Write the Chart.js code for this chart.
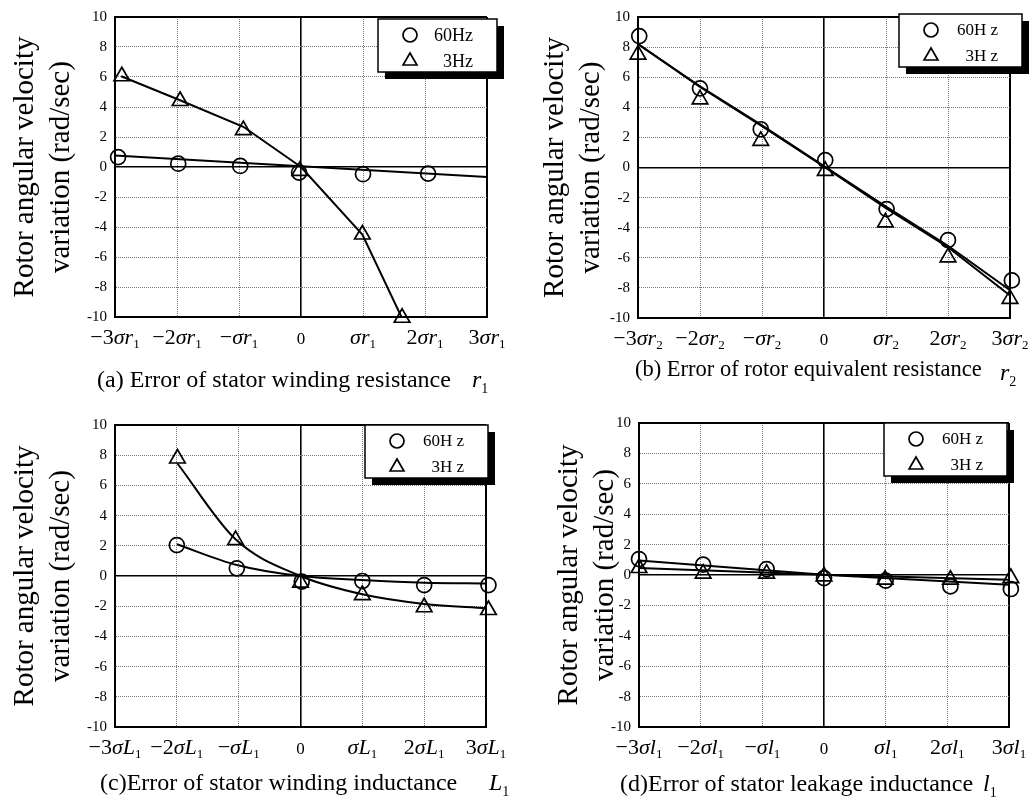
<!DOCTYPE html>
<html>
<head>
<meta charset="utf-8">
<script src="https://cdn.jsdelivr.net/npm/chart.js@4.4.1/dist/chart.umd.min.js"></script>
<style>
  body { margin: 0; background: #fff; width: 1034px; height: 801px; position: relative; overflow: hidden;
         font-family: 'Liberation Serif', 'Times New Roman', serif; color: #000; }
  canvas { position: absolute; }
  .cap { position: absolute; white-space: nowrap; font-size: 24px; line-height: 24px; }
  .v { position: absolute; white-space: nowrap; font-style: italic; font-size: 24px; line-height: 24px; }
  .v sub { font-style: normal; font-size: 14px; vertical-align: baseline; position: relative; top: 6px; }
</style>
</head>
<body>
<canvas id="ca" width="517" height="400" style="left:0;top:0"></canvas>
<canvas id="cb" width="517" height="400" style="left:517px;top:0"></canvas>
<canvas id="cc" width="517" height="401" style="left:0;top:400px"></canvas>
<canvas id="cd" width="517" height="401" style="left:517px;top:400px"></canvas>

<div class="cap" style="left:97px;top:367px">(a) Error of stator winding resistance</div>
<div class="v" style="left:472px;top:367px">r<sub>1</sub></div>
<div class="cap" style="left:635px;top:358px;font-size:22.5px;line-height:22.5px">(b) Error of rotor equivalent resistance</div>
<div class="v" style="left:1000px;top:360px">r<sub>2</sub></div>
<div class="cap" style="left:100px;top:770px">(c)Error of stator winding inductance</div>
<div class="v" style="left:489px;top:770px">L<sub>1</sub></div>
<div class="cap" style="left:620px;top:771px">(d)Error of stator leakage inductance</div>
<div class="v" style="left:983px;top:771px">l<sub>1</sub></div>

<script>
// x positions of the ticks and their labels
const xTicks = [-3, -2, -1, 0, 1, 2, 3];
const tickLabelsA = ['−3σr₁', '−2σr₁', '−σr₁', '0', 'σr₁', '2σr₁', '3σr₁'];
const tickLabelsB = ['−3σr₂', '−2σr₂', '−σr₂', '0', 'σr₂', '2σr₂', '3σr₂'];
const tickLabelsC = ['−3σL₁', '−2σL₁', '−σL₁', '0', 'σL₁', '2σL₁', '3σL₁'];
const tickLabelsD = ['−3σl₁', '−2σl₁', '−σl₁', '0', 'σl₁', '2σl₁', '3σl₁'];
const namesA = ['60Hz', '3Hz'];
const namesBCD = ['60H z', '3H z'];
const yTitle = ['Rotor angular velocity', 'variation (rad/sec)'];

// (a) stator winding resistance
const a60X = [-2.95, -1.98, -0.98, -0.03, 1.0, 2.05];
const a60Y = [0.66, 0.22, 0.07, -0.37, -0.48, -0.44];
const a3X = [-2.89, -1.95, -0.93, -0.02, 0.99, 1.63];
const a3Y = [6.05, 4.4, 2.46, -0.26, -4.5, -10.05];
const a60FitX = [-3, 3];
const a60FitY = [0.77, -0.66];
const a3FitX = [-2.9, -1.95, -0.93, 0, 0.99, 1.62];
const a3FitY = [6.05, 4.45, 2.68, 0.0, -4.5, -10];

// (b) rotor equivalent resistance
const b60X = [-2.98, -2.0, -1.02, 0.02, 1.01, 2.0, 3.03];
const b60Y = [8.73, 5.26, 2.54, 0.49, -2.76, -4.82, -7.5];
const b3X = [-3.0, -2.0, -1.02, 0.02, 0.99, 2.0, 3.0];
const b3Y = [7.5, 4.53, 1.77, -0.22, -3.65, -5.97, -8.73];
const b60FitX = [-3, -2, -1, 0, 1, 2, 3];
const b60FitY = [8.2, 5.4, 2.8, 0.1, -2.6, -5.2, -8.15];
const b3FitX = [-3, -2, -1, 0, 1, 2, 3];
const b3FitY = [8.2, 5.35, 2.75, 0.05, -2.7, -5.3, -8.5];

// (c) stator winding inductance
const c60X = [-2.0, -1.03, 0.02, 1.0, 2.0, 3.04];
const c60Y = [2.05, 0.51, -0.37, -0.33, -0.6, -0.6];
const c3X = [-1.99, -1.05, 0.0, 1.0, 2.0, 3.04];
const c3Y = [7.78, 2.38, -0.44, -1.26, -2.07, -2.25];
const c60FitX = [-2, -1.03, 0, 1, 2, 3];
const c60FitY = [2.1, 0.73, 0, -0.26, -0.44, -0.49];
const c3FitX = [-1.99, -1.05, 0, 1, 2, 3];
const c3FitY = [7.45, 2.43, 0, -1.21, -1.85, -2.14];

// (d) stator leakage inductance
const d60X = [-3.0, -1.96, -0.93, 0.0, 1.0, 2.05, 3.03];
const d60Y = [1.05, 0.68, 0.39, -0.2, -0.37, -0.75, -0.92];
const d3X = [-3.0, -1.96, -0.93, 0.0, 0.99, 2.05, 3.03];
const d3Y = [0.46, 0.09, 0.09, -0.09, -0.31, -0.31, -0.2];
const d60FitX = [-3, 0, 3];
const d60FitY = [0.96, 0.02, -0.64];
const d3FitX = [-3, 0, 3];
const d3FitY = [0.46, 0.02, -0.31];

const SERIF = "'Liberation Serif', 'Times New Roman', serif";
Chart.defaults.font.family = SERIF;
Chart.defaults.color = '#000';

function pts(xs, ys) {
  return xs.map((x, i) => ({ x: x, y: ys[i] }));
}

function fitSet(xs, ys, smooth) {
  return {
    data: pts(xs, ys), showLine: true, borderColor: '#000', borderWidth: 2,
    pointRadius: 0, pointHoverRadius: 0, fill: false,
    cubicInterpolationMode: smooth ? 'monotone' : 'default', tension: 0
  };
}

function markSet(label, style, xs, ys) {
  const r = style === 'triangle' ? 9 : 7.5;
  return {
    label: label, data: pts(xs, ys), showLine: false, pointStyle: style,
    pointRadius: r, pointHoverRadius: r, pointBorderWidth: 1.7,
    borderColor: '#000', pointBorderColor: '#000',
    backgroundColor: 'rgba(0,0,0,0)', pointBackgroundColor: 'rgba(0,0,0,0)', clip: false
  };
}

// x tick labels with an italic sigma part and a small subscript
function drawMath(ctx, txt, cx, base) {
  const SUB = { '₁': '1', '₂': '2' };
  const k = txt.indexOf('σ');
  if (k < 0) {
    ctx.font = "17px 'Liberation Serif'";
    ctx.textAlign = 'center';
    ctx.fillText(txt, cx, base);
    return;
  }
  const pre = txt.slice(0, k), mid = txt.slice(k, -1), sub = SUB[txt.slice(-1)] || '';
  const fUp = "22px 'Liberation Serif'", fIt = "italic 22px 'Liberation Serif'", fSub = "13px 'Liberation Serif'";
  ctx.font = fUp; const w1 = ctx.measureText(pre).width;
  ctx.font = fIt; const w2 = ctx.measureText(mid).width;
  ctx.font = fSub; const w3 = ctx.measureText(sub).width;
  let x = cx - (w1 + w2 + w3) / 2;
  ctx.textAlign = 'left';
  ctx.font = fUp; ctx.fillText(pre, x, base); x += w1;
  ctx.font = fIt; ctx.fillText(mid, x, base); x += w2;
  ctx.font = fSub; ctx.fillText(sub, x, base + 4);
}

const mathTicks = {
  id: 'mathTicks',
  afterDraw(chart, args, opts) {
    const { ctx, chartArea, scales } = chart;
    ctx.save();
    ctx.fillStyle = '#000';
    ctx.textBaseline = 'alphabetic';
    opts.labels.forEach((txt, i) => {
      drawMath(ctx, txt, scales.x.getPixelForValue(xTicks[i]), chartArea.bottom + opts.offset);
    });
    ctx.restore();
  }
};

// framed legend with the heavy drop shadow
const boxLegend = {
  id: 'boxLegend',
  afterDatasetsDraw(chart, args, opts) {
    const { ctx, chartArea } = chart;
    const x0 = chartArea.right + opts.dx, y0 = chartArea.top + opts.dy;
    const w = opts.w, h = 53, sh = 7;
    ctx.save();
    ctx.fillStyle = '#000';
    ctx.fillRect(x0 + sh, y0 + sh, w, h);
    ctx.fillStyle = '#fff';
    ctx.fillRect(x0, y0, w, h);
    ctx.lineWidth = 1.5;
    ctx.strokeStyle = '#000';
    ctx.strokeRect(x0, y0, w, h);
    chart.data.datasets.filter(d => d.label).forEach((d, i) => {
      const cy = y0 + 16 + i * 26;
      const r = d.pointStyle === 'triangle' ? 8 : 7;
      ctx.lineWidth = 1.7;
      ctx.strokeStyle = '#000';
      ctx.fillStyle = 'rgba(0,0,0,0)';
      Chart.helpers.drawPoint(ctx, { pointStyle: d.pointStyle, radius: r, borderWidth: 1.7, rotation: 0 }, x0 + 32, cy);
      ctx.fillStyle = '#000';
      ctx.font = opts.fontSize + "px 'Liberation Serif'";
      ctx.textAlign = 'right';
      ctx.textBaseline = 'middle';
      ctx.fillText(d.label, x0 + w - 24, cy + 1);
    });
    ctx.restore();
  }
};

function isFrame(c, lim) {
  return c.tick && (c.tick.value === 0 || Math.abs(c.tick.value) === lim);
}

function gridFor(lim) {
  return {
    grid: {
      drawTicks: false,
      color: c => isFrame(c, lim) ? '#000' : '#777',
      lineWidth: c => !c.tick ? 1 : (c.tick.value === 0 ? 1.6 : (Math.abs(c.tick.value) === lim ? 2 : 1))
    },
    border: {
      display: true, color: '#000', width: 2,
      dash: c => (!c.tick || isFrame(c, lim)) ? [] : [1, 1]
    }
  };
}

const panels = [
  { id: 'ca', labels: tickLabelsA, names: namesA, area: { left: 115, top: 14, right: 487, bottom: 317 },
    titlePad: 7, legend: { dx: -109, dy: 2, w: 119, fontSize: 18 }, smooth: false,
    sets: [[a60FitX, a60FitY, a60X, a60Y], [a3FitX, a3FitY, a3X, a3Y]] },
  { id: 'cb', labels: tickLabelsB, names: namesBCD, area: { left: 121, top: 17, right: 493, bottom: 318 },
    titlePad: 20, legend: { dx: -111, dy: -3, w: 123, fontSize: 17 }, smooth: false,
    sets: [[b60FitX, b60FitY, b60X, b60Y], [b3FitX, b3FitY, b3X, b3Y]] },
  { id: 'cc', labels: tickLabelsC, names: namesBCD, area: { left: 115, top: 25, right: 486, bottom: 327 },
    titlePad: 7, legend: { dx: -121, dy: 0, w: 123, fontSize: 17 }, smooth: true,
    sets: [[c60FitX, c60FitY, c60X, c60Y], [c3FitX, c3FitY, c3X, c3Y]] },
  { id: 'cd', labels: tickLabelsD, names: namesBCD, area: { left: 122, top: 23, right: 492, bottom: 327 },
    titlePad: 34, legend: { dx: -125, dy: 0, w: 123, fontSize: 17 }, smooth: false,
    sets: [[d60FitX, d60FitY, d60X, d60Y], [d3FitX, d3FitY, d3X, d3Y]] }
];

panels.forEach(p => {
  const canvas = document.getElementById(p.id);
  const W = canvas.width, H = canvas.height;
  const s60 = p.sets[0], s3 = p.sets[1];
  new Chart(canvas, {
    type: 'scatter',
    data: {
      datasets: [
        fitSet(s60[0], s60[1], p.smooth),
        fitSet(s3[0], s3[1], p.smooth),
        markSet(p.names[0], 'circle', s60[2], s60[3]),
        markSet(p.names[1], 'triangle', s3[2], s3[3])
      ]
    },
    options: {
      responsive: false,
      animation: false,
      events: [],
      layout: { padding: { left: 0, top: p.area.top, right: W - p.area.right, bottom: 0 } },
      scales: {
        x: Object.assign({
          type: 'linear', min: -3, max: 3,
          ticks: { display: false, stepSize: 1 },
          afterFit: s => { s.height = H - p.area.bottom; }
        }, gridFor(3)),
        y: Object.assign({
          type: 'linear', min: -10, max: 10,
          ticks: { stepSize: 2, padding: 8, color: '#000', font: { family: SERIF, size: 15 } },
          title: {
            display: true, text: yTitle, color: '#000',
            font: { family: SERIF, size: 29, lineHeight: 1.25 }, padding: { top: p.titlePad, bottom: 0 }
          },
          afterFit: s => { s.width = p.area.left; }
        }, gridFor(10))
      },
      plugins: {
        legend: { display: false },
        tooltip: { enabled: false },
        mathTicks: { labels: p.labels, offset: 27 },
        boxLegend: p.legend
      }
    },
    plugins: [mathTicks, boxLegend]
  });
});
</script>
</body>
</html>
